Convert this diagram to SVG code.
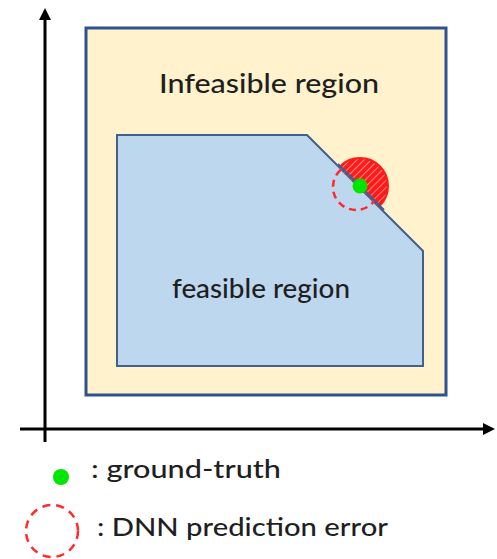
<svg xmlns="http://www.w3.org/2000/svg" width="497" height="559" viewBox="0 0 497 559">
  <style>
    .lbl { font-family: Lato, "Open Sans", "Liberation Sans", sans-serif; fill: #1f1f1f; font-weight: 500; }
    .axis { stroke: #000; stroke-width: 3; fill: none; }
  </style>
  <defs>
    <marker id="arr" markerWidth="4" markerHeight="4" refX="2" refY="2" orient="auto" markerUnits="strokeWidth">
      <path d="M0,0 L4,2 L0,4 Z" fill="#000"/>
    </marker>
    <pattern id="hatch" patternUnits="userSpaceOnUse" width="5" height="5" patternTransform="rotate(45)">
      <rect width="5" height="5" fill="#ff1a1a"/>
      <line x1="0" y1="0" x2="0" y2="5" stroke="#ffd6d6" stroke-width="1.2"/>
    </pattern>
    <clipPath id="outside">
      <polygon points="300,120 300,130 307,135 423,251 423,260 500,260 500,120"/>
    </clipPath>
    <clipPath id="inside">
      <polygon points="300,120 300,135 307,135 423,251 423,260 300,260"/>
    </clipPath>
  </defs>
  <rect width="497" height="559" fill="#fff"/>

  <g id="infeasible">
    <rect x="86" y="28" width="360" height="367" fill="#FFF2CC" stroke="#2F528F" stroke-width="3"/>
    <text class="lbl" x="269" y="93" font-size="27" text-anchor="middle" textLength="220" lengthAdjust="spacingAndGlyphs">Infeasible region</text>
  </g>

  <g id="feasible">
    <polygon points="117,135 307,135 423,251 423,366 117,366" fill="#BDD7EE" stroke="#41608C" stroke-width="2"/>
    <text class="lbl" x="261" y="298" font-size="27" text-anchor="middle" textLength="178" lengthAdjust="spacingAndGlyphs">feasible region</text>
  </g>

  <g id="error-region">
    <circle cx="360" cy="186" r="28" fill="url(#hatch)" stroke="#ff1a1a" stroke-width="2" clip-path="url(#outside)"/>
    <line x1="338" y1="164" x2="384" y2="210" stroke="#41608C" stroke-width="2"/>
    <circle cx="356" cy="187" r="23" fill="none" stroke="#ff2a2a" stroke-width="2.5" stroke-dasharray="7,5" clip-path="url(#inside)"/>
    <circle cx="360" cy="186" r="7.5" fill="#00e600"/>
  </g>

  <g id="axes">
    <line class="axis" x1="45" y1="442" x2="45" y2="14" marker-end="url(#arr)"/>
    <line class="axis" x1="20" y1="429" x2="489" y2="429" marker-end="url(#arr)"/>
  </g>

  <g id="legend">
    <circle cx="61" cy="477" r="8" fill="#00e600"/>
    <text class="lbl" x="91" y="478" font-size="25" textLength="190" lengthAdjust="spacingAndGlyphs">: ground-truth</text>
    <circle cx="52" cy="531" r="26" fill="none" stroke="#ff2a2a" stroke-width="2.5" stroke-dasharray="8,6"/>
    <text class="lbl" x="97" y="536" font-size="25" textLength="291" lengthAdjust="spacingAndGlyphs">: DNN prediction error</text>
  </g>
</svg>
